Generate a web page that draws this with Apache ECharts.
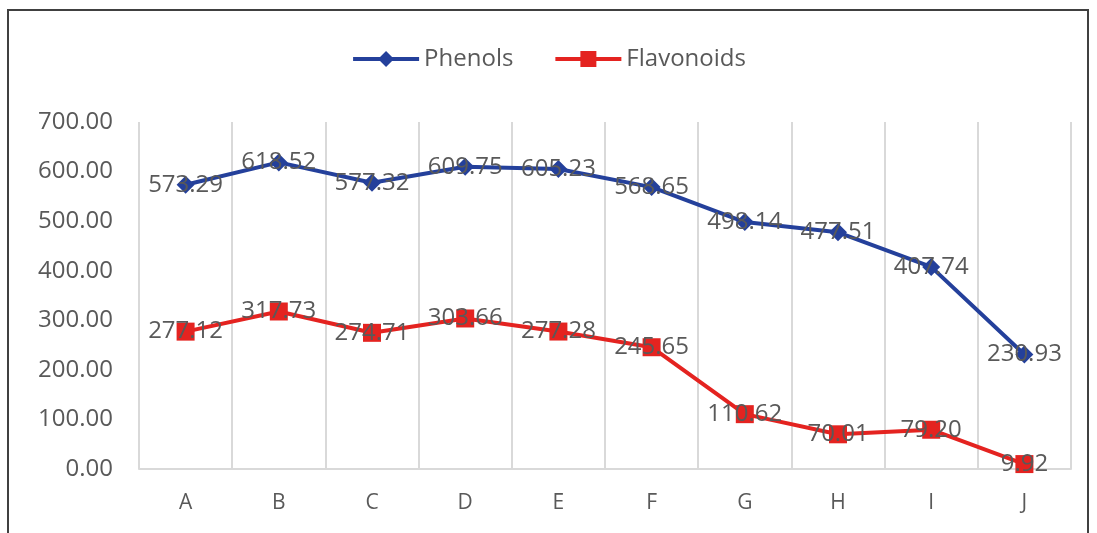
<!DOCTYPE html>
<html>
<head>
<meta charset="utf-8">
<script src="https://cdn.jsdelivr.net/npm/echarts@6/dist/echarts.min.js"></script>
<style>
  html, body { margin: 0; padding: 0; background: #ffffff; }
  #frame { position: absolute; left: 7px; top: 9px; width: 1082px; height: 540px;
           border: 2px solid #404040; border-bottom: none; box-sizing: border-box; }
  #chart { position: absolute; left: 0; top: 0; width: 1097px; height: 533px; }
</style>
</head>
<body>
<div id="frame"></div>
<div id="chart"></div>
<script>
// Sample codes along the x axis
const categories = ['A', 'B', 'C', 'D', 'E', 'F', 'G', 'H', 'I', 'J'];
// Total phenolic content per sample
const phenols = [573.29, 618.52, 577.32, 609.75, 605.23, 568.65, 498.14, 477.51, 407.74, 230.93];
// Total flavonoid content per sample
const flavonoids = [277.12, 317.73, 274.71, 303.66, 277.28, 245.65, 110.62, 70.01, 79.20, 9.92];
// Value axis ticks
const yTicks = [0, 100, 200, 300, 400, 500, 600, 700];

const font = 'Open Sans, Liberation Sans, sans-serif';
const labelStyle = {
  show: true,
  position: 'inside',
  color: '#595959',
  fontSize: 24,
  fontFamily: font,
  formatter: p => p.value.toFixed(2)
};

const chart = echarts.init(document.getElementById('chart'));
chart.setOption({
  animation: false,
  legend: {
    top: 42,
    left: 'center',
    itemWidth: 66,
    itemHeight: 20,
    itemGap: 40,
    lineStyle: { width: 4 },
    textStyle: { color: '#595959', fontSize: 24, fontFamily: font },
    data: ['Phenols', 'Flavonoids']
  },
  grid: { left: 139, right: 26, top: 122, bottom: 64 },
  xAxis: {
    type: 'category',
    data: categories,
    boundaryGap: true,
    axisLine: { lineStyle: { color: '#d9d9d9', width: 2 } },
    axisTick: { show: false },
    axisLabel: { color: '#595959', fontSize: 21, fontFamily: font, margin: 24 },
    splitLine: { show: true, lineStyle: { color: '#d9d9d9', width: 2 } }
  },
  yAxis: {
    type: 'value',
    min: yTicks[0],
    max: yTicks[yTicks.length - 1],
    interval: 100,
    axisLine: { show: false },
    axisTick: { show: false },
    splitLine: { show: false },
    axisLabel: {
      color: '#595959', fontSize: 24, fontFamily: font, margin: 26,
      formatter: v => v.toFixed(2)
    }
  },
  series: [
    {
      name: 'Phenols',
      type: 'line',
      data: phenols,
      symbol: 'diamond',
      symbolSize: 18,
      color: '#24409b',
      lineStyle: { width: 4, color: '#24409b' },
      itemStyle: { color: '#24409b' },
      label: labelStyle,
      z: 3
    },
    {
      name: 'Flavonoids',
      type: 'line',
      data: flavonoids,
      symbol: 'rect',
      symbolSize: 18,
      color: '#e42320',
      lineStyle: { width: 4, color: '#e42320' },
      itemStyle: { color: '#e42320' },
      label: labelStyle,
      z: 2
    }
  ]
});
</script>
</body>
</html>
